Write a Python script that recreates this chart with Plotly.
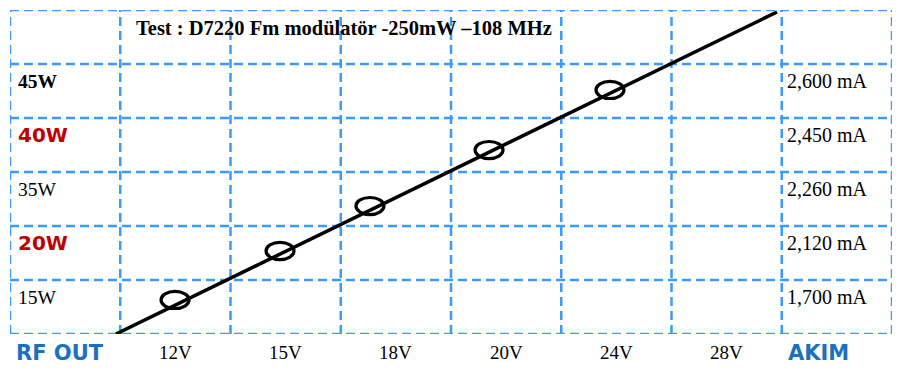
import plotly.graph_objects as go

# ---- data (grid units: x = table column, y = table row from bottom) ----
volt_labels = ["12V", "15V", "18V", "20V", "24V", "28V"]
power_labels = ["15W", "20W", "35W", "40W", "45W"]
current_labels = ["1,700 mA", "2,120 mA", "2,260 mA", "2,450 mA", "2,600 mA"]
meas_x = [1.497, 2.449, 3.265, 4.345, 5.442]
meas_y = [0.630, 1.537, 2.370, 3.407, 4.519]
trend_x = [0.961, 6.957]
trend_y = [0.0, 5.963]
title_text = "Test : D7220 Fm modülatör -250mW –108 MHz"

N_COLS, N_ROWS = 8, 6
GRID = "#3d9af8"
SERIF = "Liberation Serif, Times New Roman, serif"
SANS = "DejaVu Sans, Arial, sans-serif"
RED = "#c00000"
BLUE = "#1c70c0"

fig = go.Figure()

fig.add_trace(go.Scatter(x=trend_x, y=trend_y, mode="lines",
                         line=dict(color="black", width=3.5),
                         hoverinfo="skip", showlegend=False))

shapes = []
for i in range(N_COLS + 1):
    shapes.append(dict(type="line", xref="x", yref="y", x0=i, x1=i, y0=0, y1=N_ROWS,
                       line=dict(color=GRID, width=2.5, dash="9px,5px"), layer="below"))
for j in range(N_ROWS + 1):
    shapes.append(dict(type="line", xref="x", yref="y", x0=0, x1=N_COLS, y0=j, y1=j,
                       line=dict(color=GRID, width=2.5, dash="9px,5px"), layer="below"))

EW, EH = 0.127, 0.158  # half-width / half-height of ellipse markers in grid units
for mx, my in zip(meas_x, meas_y):
    shapes.append(dict(type="circle", xref="x", yref="y",
                       x0=mx - EW, x1=mx + EW, y0=my - EH, y1=my + EH,
                       line=dict(color="black", width=3.2), layer="above"))

ann = []
# title
ann.append(dict(x=3.03, y=5.67, xref="x", yref="y", text="<b>" + title_text + "</b>",
                showarrow=False, font=dict(family=SERIF, size=20.5, color="black"),
                xanchor="center", yanchor="middle"))

# left power labels
for r, lab in enumerate(power_labels):
    y = r + 0.685
    if lab in ("20W", "40W"):
        ann.append(dict(x=0.055, y=y, xref="x", yref="y", text="<b>" + lab + "</b>",
                        showarrow=False, xanchor="left", yanchor="middle",
                        font=dict(family=SANS, size=20, color=RED)))
    else:
        txt = "<b>" + lab + "</b>" if lab == "45W" else lab
        ann.append(dict(x=0.055, y=y, xref="x", yref="y", text=txt,
                        showarrow=False, xanchor="left", yanchor="middle",
                        font=dict(family=SERIF, size=19.5, color="black")))

# right current labels
for r, lab in enumerate(current_labels):
    ann.append(dict(x=7.03, y=r + 0.685, xref="x", yref="y", text=lab,
                    showarrow=False, xanchor="left", yanchor="middle",
                    font=dict(family=SERIF, size=20, color="black")))

# bottom labels (paper y below the plot area)
BOT_Y = -0.058
for k, lab in enumerate(volt_labels):
    ann.append(dict(x=(k + 1.5) / N_COLS, y=BOT_Y, xref="paper", yref="paper", text=lab,
                    showarrow=False, xanchor="center", yanchor="middle",
                    font=dict(family=SERIF, size=19, color="black")))

ann.append(dict(x=0.45 / N_COLS, y=BOT_Y, xref="paper", yref="paper", text="<b>RF OUT</b>",
                showarrow=False, xanchor="center", yanchor="middle",
                font=dict(family=SANS, size=21, color=BLUE)))
ann.append(dict(x=7.04 / N_COLS, y=BOT_Y, xref="paper", yref="paper", text="<b>AKIM</b>",
                showarrow=False, xanchor="left", yanchor="middle",
                font=dict(family=SANS, size=21, color=BLUE)))

# page body has an 8px margin; margins below compensate so plot area sits at x 10..892, y 10..334
fig.update_layout(
    width=900, height=387,
    margin=dict(l=2, r=16, t=2, b=61),
    paper_bgcolor="white", plot_bgcolor="white",
    xaxis=dict(range=[0, N_COLS], visible=False, fixedrange=True),
    yaxis=dict(range=[0, N_ROWS], visible=False, fixedrange=True),
    shapes=shapes, annotations=ann, showlegend=False,
)

fig.write_html("out.html")
